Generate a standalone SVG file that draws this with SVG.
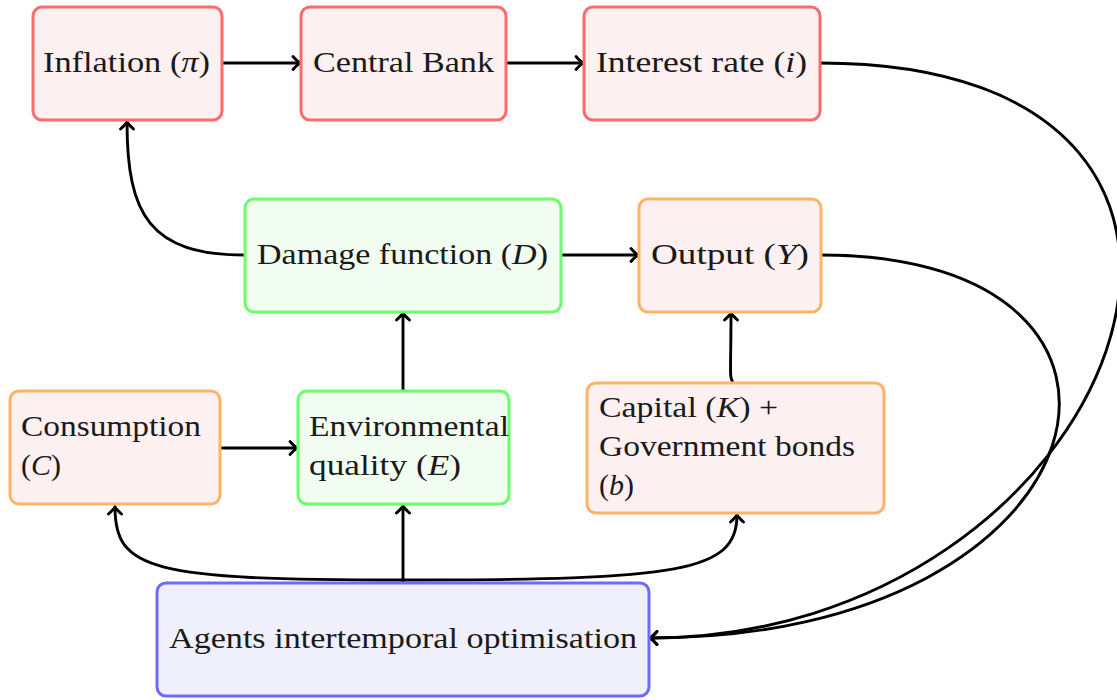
<svg xmlns="http://www.w3.org/2000/svg" width="1117" height="700" viewBox="0 0 1117 700">
<style>
.box{stroke-width:3}
.red{stroke:#ff6b6b;fill:#fdf0f0}
.org{stroke:#ffb366;fill:#fdf0f0}
.grn{stroke:#6bff6b;fill:#f1fdf1}
.blu{stroke:#6b6bff;fill:#f0f0fd}
text{font-family:"Liberation Serif","Times New Roman",serif;font-size:30px;fill:#1a1a1a}
.m{font-style:italic}
.c{fill:none;stroke:#000;stroke-width:2.9;marker-end:url(#arr)}
</style>
<defs>
<marker id="arr" markerUnits="userSpaceOnUse" markerWidth="16" markerHeight="18" viewBox="-11 -9 14 18" refX="0" refY="0" orient="auto">
<path d="M-7,-6.5 Q-2.5,-1.5 0,0 Q-2.5,1.5 -7,6.5" fill="none" stroke="#000" stroke-width="2.9" stroke-linecap="round"/>
</marker>
</defs>
<g id="connectors">
<path class="c" d="M222,63 L300,63"/>
<path class="c" d="M506,63 L583,63"/>
<path class="c" d="M820,63 C1340,63 1120,638 650,638"/>
<path class="c" d="M821,255 C1200,255 1115,638 650,638"/>
<path class="c" d="M245,255 C150,255 127,215 127,122"/>
<path class="c" d="M561,255 L638,255"/>
<path class="c" d="M403,391 L403,313"/>
<path class="c" d="M733,382 C729,378 731,370 731,313"/>
<path class="c" d="M220,448 L297,448"/>
<path class="c" d="M403,583 L403,506"/>
<path class="c" d="M403,580 C150,580 115,570 115,507"/>
<path class="c" d="M403,580 C680,580 737,572 737,515"/>
</g>
<g id="inflation"><rect class="box red" x="33" y="7" width="189" height="113" rx="9"/><text x="43" y="72" textLength="167" lengthAdjust="spacingAndGlyphs">Inflation (<tspan class="m">π</tspan>)</text></g>
<g id="central-bank"><rect class="box red" x="301" y="7" width="205" height="113" rx="9"/><text x="313" y="72" textLength="181" lengthAdjust="spacingAndGlyphs">Central Bank</text></g>
<g id="interest-rate"><rect class="box red" x="584" y="7" width="236" height="113" rx="9"/><text x="596" y="72" textLength="211" lengthAdjust="spacingAndGlyphs">Interest rate (<tspan class="m">i</tspan>)</text></g>
<g id="damage"><rect class="box grn" x="245" y="199" width="316" height="113" rx="9"/><text x="257" y="264" textLength="291" lengthAdjust="spacingAndGlyphs">Damage function (<tspan class="m">D</tspan>)</text></g>
<g id="output"><rect class="box org" x="639" y="199" width="182" height="113" rx="9"/><text x="651" y="264" textLength="158" lengthAdjust="spacingAndGlyphs">Output (<tspan class="m">Y</tspan>)</text></g>
<g id="consumption"><rect class="box org" x="10" y="391" width="210" height="113" rx="9"/><text x="21" y="436" textLength="180" lengthAdjust="spacingAndGlyphs">Consumption</text><text x="21" y="475">(<tspan class="m">C</tspan>)</text></g>
<g id="environment"><rect class="box grn" x="298" y="391" width="211" height="113" rx="9"/><text x="309" y="436" textLength="200" lengthAdjust="spacingAndGlyphs">Environmental</text><text x="309" y="475" textLength="152" lengthAdjust="spacingAndGlyphs">quality (<tspan class="m">E</tspan>)</text></g>
<g id="capital"><rect class="box org" x="587" y="383" width="297" height="130" rx="9"/><text x="599" y="417" textLength="179" lengthAdjust="spacingAndGlyphs">Capital (<tspan class="m">K</tspan>) +</text><text x="599" y="456" textLength="256" lengthAdjust="spacingAndGlyphs">Government bonds</text><text x="599" y="495">(<tspan class="m">b</tspan>)</text></g>
<g id="agents"><rect class="box blu" x="157" y="583" width="492" height="113" rx="9"/><text x="169" y="648" textLength="468" lengthAdjust="spacingAndGlyphs">Agents intertemporal optimisation</text></g>
</svg>
